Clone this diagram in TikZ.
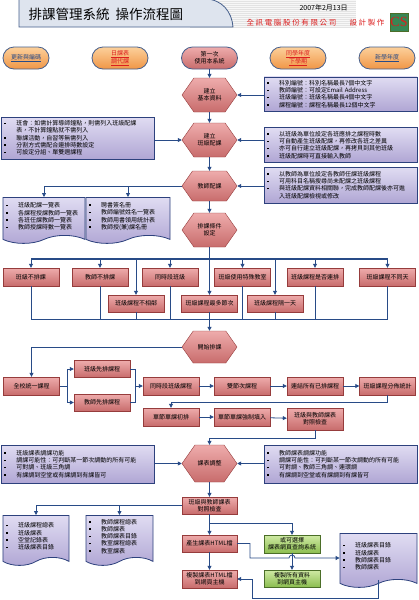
\documentclass[tikz,border=0pt]{standalone}
\usepackage{fontspec}
\setmainfont{Noto Sans CJK TC}
\newfontfamily\widecjk[LetterSpace=22]{Noto Sans CJK TC}
\newfontfamily\logofont{Liberation Serif}
\usetikzlibrary{shapes.geometric, shapes.symbols, arrows.meta, positioning}

\definecolor{navy}{RGB}{40,75,135}
\definecolor{redtop}{RGB}{238,172,172}
\definecolor{redbot}{RGB}{200,108,108}
\definecolor{redline}{RGB}{150,60,60}
\definecolor{purtop}{RGB}{224,220,242}
\definecolor{purbot}{RGB}{176,166,212}
\definecolor{purline}{RGB}{45,65,125}
\definecolor{grntop}{RGB}{208,234,165}
\definecolor{grnbot}{RGB}{140,190,80}
\definecolor{grnline}{RGB}{75,110,40}
\definecolor{orgtop}{RGB}{252,208,155}
\definecolor{orgbot}{RGB}{240,150,70}
\definecolor{ovline}{RGB}{70,95,140}
\definecolor{headbg}{RGB}{222,228,238}
\definecolor{ttlred}{RGB}{220,30,30}
\definecolor{logogrn}{RGB}{55,135,85}

\newcommand\sm{\fontsize{6}{7.3}\selectfont}
\newcommand\bl{\makebox[12pt][l]{\rule[1.5pt]{1.6pt}{1.6pt}}}
\newcommand\ind{\hspace*{12pt}}

\begin{document}
\begin{tikzpicture}[x=1pt, y=-1pt,
	redbox/.style={rectangle, draw=redline, top color=redtop, bottom color=redbot, minimum width=56pt, minimum height=18pt, inner sep=1pt, align=center, font=\sm},
	grnbox/.style={redbox, draw=grnline, top color=grntop, bottom color=grnbot},
	hexa/.style={signal, signal to=east and west, signal pointer angle=110, draw=redline, top color=redtop, bottom color=redbot, minimum width=55pt, minimum height=34pt, inner sep=0pt, align=center, font=\sm},
	note/.style={rectangle, draw=purline, thick, top color=purtop, bottom color=purbot, text width=147pt, inner xsep=3pt, align=left, font=\sm},
	doc/.style={tape, tape bend top=none, tape bend height=8pt, draw=purline, thick, top color=purtop, bottom color=purbot, align=left, font=\sm, inner xsep=3pt},
	oval/.style={rectangle, rounded corners=11pt, draw=ovline, thick, top color=orgtop, bottom color=orgbot, minimum width=56pt, minimum height=22pt, inner sep=1pt, align=center, font=\sm},
	conn/.style={navy, line width=0.8pt, -{Triangle[length=4pt, width=4pt]}},
	wire/.style={navy, line width=0.8pt},
]
	\useasboundingbox[fill=white] (0,0) rectangle (418,600);

	% header
	\fill[gray!6] (190,0) rectangle (356,27);
	\foreach \y in {1,3,...,27} \draw[gray!22, line width=0.5pt] (190,\y) -- (356,\y);
	\filldraw[fill=headbg, draw=ovline, line width=0.8pt] (19,-1) -- (19,27) -- (233,27) .. controls (232,12) and (222,-1) .. (205,-1) -- cycle;
	\node[anchor=west, font=\fontsize{13.5}{14}\selectfont] (title) at (25,14) {排課管理系統\hspace{6pt}操作流程圖};
	\node[anchor=west, font=\fontsize{7}{8}\selectfont] (date) at (296,8) {2007年2月13日};
	\node[anchor=west, text=ttlred, font={\widecjk\fontsize{7.5}{8}\selectfont}] (corp) at (243,23) {全訊電腦股份有限公司};
	\node[anchor=west, text=ttlred, font={\widecjk\fontsize{7.5}{8}\selectfont}] (made) at (346,23) {設計製作};
	\node[draw=grnline, line width=1pt, fill=logogrn, minimum size=18pt, inner sep=0pt, text=ttlred, font={\logofont\fontsize{14}{14}\selectfont}] (logo) at (399,22) {CS};

	% starting points
	\node[oval, minimum width=46pt, text=navy] (o1) at (26,58) {\underline{更新與編碼}};
	\node[oval, text=ttlred] (o2) at (120,58) {\underline{日課表}\\\underline{調代課}};
	\node[oval, top color=redtop, bottom color=redbot] (o3) at (209.5,58) {第一次\\使用本系統};
	\node[oval, text=ttlred] (o4) at (298,58) {\underline{同學年度}\\\underline{下學期}};
	\node[oval, text=navy] (o5) at (387,58) {\underline{新學年度}};

	% main steps
	\node[hexa] (basic) at (209.5,95) {建立\\基本資料};
	\node[hexa] (clscfg) at (209.5,140) {建立\\班級配課};
	\node[hexa, minimum height=30pt] (tchcfg) at (209.5,186) {教師配課};
	\node[hexa] (cond) at (209.5,230) {排課條件\\設定};

	% notes
	\node[note, minimum height=34pt] (n1) at (340.5,94) {\bl 科別編號：科別名稱最長7個中文字\\\bl 教師編號：可設定Email Address\\\bl 班級編號：班級名稱最長4個中文字\\\bl 課程編號：課程名稱最長12個中文字};
	\node[note, minimum height=42pt] (nl2) at (78,138) {\bl 班會：如需計算導師鐘點，則需列入班級配課\\\ind 表，不計算鐘點就不需列入\\\bl 聯課活動，自習等無需列入\\\bl 分割方式需配合連排時數設定\\\bl 可設定分組、單雙週課程};
	\node[note, minimum height=29pt] (n2) at (340.5,145) {\bl 以班級為單位設定各班應排之課程時數\\\bl 可自動產生班級配課，再修改各班之差異\\\bl 亦可自行建立班級配課，再拷貝到其他班級\\\bl 班級配課時可直接輸入教師};
	\node[note, minimum height=36pt] (n3) at (340.5,185) {\bl 以教師為單位設定各教師任課班級課程\\\bl 可用科目名稱搜尋尚未配課之班級課程\\\bl 與班級配課資料相關聯，完成教師配課後亦可進\\\ind 入班級配課檢視或修改};

	% reports of teacher setup
	\node[doc, anchor=north, text width=76pt, minimum height=46pt] (doc1) at (44,197) {\bl 班級配課一覽表\\\bl 各課程授課教師一覽表\\\bl 各班任課教師一覽表\\\bl 教師授課時數一覽表};
	\node[doc, anchor=north, text width=78pt, minimum height=46pt] (doc2) at (128,197) {\bl 聘書簽名冊\\\bl 教師編號姓名一覽表\\\bl 教師用書領用統計表\\\bl 教師授(兼)課名冊};

	% conditions
	\node[redbox] (cnd1) at (31,277) {班級不排課};
	\node[redbox] (cnd2) at (100,277) {教師不排課};
	\node[redbox] (cnd3) at (170,277) {同時段班級};
	\node[redbox] (cnd4) at (242.5,277) {班級使用特殊教室};
	\node[redbox] (cnd5) at (315,277) {班級課程是否連排};
	\node[redbox] (cnd6) at (387.5,277) {班級課程不同天};
	\node[redbox, minimum height=17pt] (cnd7) at (136,303.5) {班級課程不相鄰};
	\node[redbox, minimum height=17pt] (cnd8) at (209.5,303.5) {班級課程最多節次};
	\node[redbox, minimum height=17pt] (cnd9) at (275,303.5) {班級課程隔一天};

	% scheduling
	\node[hexa, minimum height=32pt] (start) at (209.5,347) {開始排課};
	\node[redbox] (all) at (31.5,386) {全校統一課程};
	\node[redbox, minimum height=17pt] (clsfirst) at (102,369) {班級先排課程};
	\node[redbox, minimum height=17pt] (tchfirst) at (102,402.5) {教師先排課程};
	\node[redbox] (same) at (171,386) {同時段班級課程};
	\node[redbox] (double) at (242,386) {雙節次課程};
	\node[redbox] (link) at (315,386) {連結所有已排課程};
	\node[redbox] (dist) at (387.5,386) {班級課程分佈統計};
	\node[redbox] (single) at (171,417) {單節單課初排};
	\node[redbox] (force) at (242,417) {單節單課強制填入};
	\node[redbox, minimum height=22pt] (chk1) at (315,419) {班級與教師課表\\對照檢查};

	% adjusting
	\node[hexa, minimum height=37pt] (adjust) at (209.5,463.5) {課表調整};
	\node[note, minimum height=38pt] (nl4) at (78,464) {\bl 班級課表調課功能\\\bl 調課可能性：可判斷某一節次調動的所有可能\\\bl 可對調、班級三角調\\\bl 有課調到空堂或有課調到有課皆可};
	\node[note, minimum height=38pt] (n4) at (340.5,464) {\bl 教師課表調課功能\\\bl 調課可能性：可判斷某一節次調動的所有可能\\\bl 可對調、教師三角調、連環調\\\bl 有課調到空堂或有課調到有課皆可};
	\node[redbox, minimum width=55pt, minimum height=17pt] (chk2) at (209.5,505.5) {班級與教師課表\\對照檢查};

	% output
	\node[doc, anchor=north, text width=60pt, minimum height=50pt] (doc3) at (36,515) {\bl 班級課程總表\\\bl 班級課表\\\bl 空堂記錄表\\\bl 班級課表目錄};
	\node[doc, anchor=north, text width=61pt, minimum height=50pt] (doc4) at (119.5,515) {\bl 教師課程總表\\\bl 教師課表\\\bl 教師課表目錄\\\bl 教室課程總表\\\bl 教室課表};
	\node[redbox, minimum width=55pt, minimum height=17pt] (html) at (209.5,543.5) {產生課表HTML檔};
	\node[grnbox, minimum height=18pt] (web) at (292,544) {或可選擇\\課表網頁查詢系統};
	\node[grnbox, minimum height=17pt] (copyall) at (292,578.5) {複製所有資料\\到網頁主機};
	\node[redbox, minimum width=55pt, minimum height=18pt] (copyhtml) at (209.5,579) {複製課表HTML檔\\到網頁主機};
	\node[doc, anchor=north, text width=71pt, minimum height=54pt] (rdoc) at (378.5,533) {\bl 班級課表目錄\\\bl 班級課表\\\bl 教師課表目錄\\\bl 教師課表};

	% connectors, top
	\draw[conn] (o3.south) -- (basic.north);
	\draw[conn] (basic.south) -- (clscfg.north);
	\draw[conn] (clscfg.south) -- (tchcfg.north);
	\draw[conn] (tchcfg.south) -- (cond.north);
	\draw[conn] (n1.west |- basic.east) -- (basic.east);
	\draw[conn] (nl2.east |- clscfg.west) -- (clscfg.west);
	\draw[conn] (n2.west |- clscfg.east) -- (clscfg.east);
	\draw[conn] (n3.west |- tchcfg.east) -- (tchcfg.east);
	\draw[conn] (tchcfg.west) -| (doc1.north);
	\draw[conn] (tchcfg.west) -| (doc2.north);

	% condition bus
	\coordinate (bustop) at (209.5,259);
	\coordinate (busbot) at (209.5,319);
	\draw[wire, line width=1.3pt] (cond.south) -- (bustop);
	\draw[wire, line width=1.3pt] (cnd1.north |- bustop) -- (cnd6.north |- bustop);
	\draw[wire] (cnd1.south |- busbot) -- (cnd6.south |- busbot);
	\foreach \n in {cnd1,cnd2,cnd3,cnd4,cnd5,cnd6,cnd7,cnd8,cnd9} {
		\draw[conn] (\n.north |- bustop) -- (\n.north);
		\draw[wire] (\n.south) -- (\n.south |- busbot);
	}
	\draw[conn, line width=1.3pt] (busbot) -- (start.north);

	% connectors, scheduling
	\coordinate (split) at (67,386);
	\coordinate (merge) at (135,386);
	\draw[conn] (start.west) -| (all.north);
	\draw[wire] (all.east) -- (split);
	\draw[conn] (split) |- (clsfirst.west);
	\draw[conn] (split) |- (tchfirst.west);
	\draw[wire] (clsfirst.east) -| (merge);
	\draw[wire] (tchfirst.east) -| (merge);
	\draw[conn] (merge) -- (same.west);
	\draw[conn] (same) -- (double);
	\draw[conn] (double) -- (link);
	\draw[conn] (link) -- (dist);
	\draw[conn] (dist.south) -- ++(0,7) -| (single.north);
	\draw[conn] (single) -- (force);
	\draw[conn] (force) -- (chk1);
	\draw[conn] (chk1.south) -- ++(0,8) -| (adjust.north);

	% connectors, adjusting and output
	\draw[conn] (nl4.east |- adjust.west) -- (adjust.west);
	\draw[conn] (n4.west |- adjust.east) -- (adjust.east);
	\draw[conn] (adjust.south) -- (chk2.north);
	\draw[conn] (chk2.west) -| (doc3.north);
	\draw[conn] (chk2.west) -| (doc4.north);
	\draw[conn] (chk2.south) -- (html.north);
	\draw[conn] (chk2.south) -- ++(0,9) -| (web.north);
	\draw[conn] (web.south) -- (copyall.north);
	\draw[conn] (html.south) -- (copyhtml.north);
	\coordinate (jmp) at (250,558);
	\draw[conn] (html.east) -| (jmp) -- ([xshift=-3pt]web.south |- jmp) arc[start angle=180, end angle=360, radius=3] -- (rdoc.west |- jmp);
	\coordinate (back) at (252,598);
	\draw[conn] (rdoc.south) |- (back) |- (copyhtml.east);
\end{tikzpicture}
\end{document}
